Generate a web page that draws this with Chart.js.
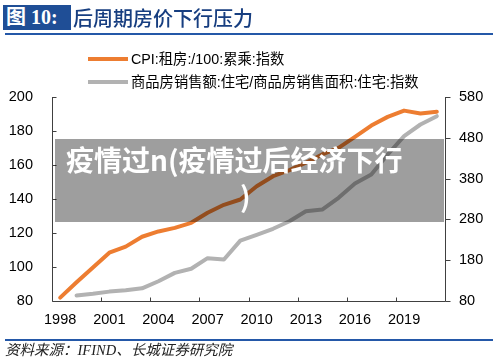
<!DOCTYPE html>
<html><head><meta charset="utf-8">
<script src="https://cdn.jsdelivr.net/npm/chart.js@4.4.0/dist/chart.umd.min.js"></script>
<style>
html,body{margin:0;padding:0;background:#fff;}
#wrap{position:relative;width:500px;height:362px;overflow:hidden;font-family:"Liberation Sans","Noto Sans CJK SC",sans-serif;}
#c{position:absolute;left:0;top:0;}
#tbox{position:absolute;left:3px;top:5px;width:68px;height:25px;background:#1f4e96;color:#fff;font-family:"Liberation Serif","Noto Sans CJK SC",serif;font-weight:bold;font-size:20px;line-height:25px;padding-left:3px;box-sizing:border-box;white-space:nowrap;}
#ttext{position:absolute;left:73px;top:3px;color:#173e80;font-family:"Noto Sans CJK SC",sans-serif;font-size:20px;line-height:30px;font-weight:500;white-space:nowrap;}
.rule{position:absolute;left:5px;width:488px;height:2px;background:#2458a8;}
#src{position:absolute;left:5px;top:341px;font-family:"Liberation Serif","Noto Sans CJK SC",serif;font-style:italic;font-size:14.5px;line-height:18px;color:#222;white-space:nowrap;}
.leg{position:absolute;left:88px;height:18px;font-size:14.3px;line-height:18px;color:#000;white-space:nowrap;}
.leg i{position:absolute;left:0;top:7px;width:40px;height:4px;}
.leg span{position:absolute;left:43px;top:0;}
#ov{position:absolute;left:55px;top:139px;width:389px;height:83px;background:rgba(0,0,0,0.38);}
.ovt{position:absolute;color:#fff;font-family:"Noto Sans CJK SC",sans-serif;font-weight:bold;font-size:28px;line-height:28px;white-space:nowrap;}
</style></head><body>
<div id="wrap">
  <canvas id="c" width="500" height="362"></canvas>
  <div id="tbox">图 10:</div>
  <div id="ttext">后周期房价下行压力</div>
  <div class="rule" style="top:33px"></div>
  <div class="leg" id="leg1" style="top:50px"><i></i><span></span></div>
  <div class="leg" id="leg2" style="top:73px"><i></i><span></span></div>
  <div id="ov"></div>
  <div class="ovt" style="left:66px;top:145px">疫情过n(疫情过后经济下行</div>
  <div class="ovt" style="left:240px;top:181px">)</div>
  <div class="rule" style="top:339px"></div>
  <div id="src">资料来源：IFIND、长城证券研究院</div>
</div>
<script>
const years = ['1998','1999','2000','2001','2002','2003','2004','2005','2006','2007','2008','2009','2010','2011','2012','2013','2014','2015','2016','2017','2018','2019','2020','2021'];
const rentCPI = [82, 91, 99.7, 108.4, 112, 117.8, 120.9, 123, 126, 131.9, 136.6, 139.7, 147.5, 153.4, 157, 161.3, 166.2, 170.1, 176.5, 183.2, 188.3, 192, 190.3, 191.3];
const housePrice = [null, 93.5, 97.6, 103, 106.5, 111, 128.5, 149, 159, 185, 181.7, 228, 242, 257, 275.6, 300, 304, 333, 368, 390, 439, 484, 512.6, 533];
const seriesNames = ['CPI:租房:/100:累乘:指数', '商品房销售额:住宅/商品房销售面积:住宅:指数'];
const seriesColors = ['#ed7d31', '#b2b2b2'];
const leftTicks = {min: 80, max: 200, step: 20};
const rightTicks = {min: 80, max: 580, step: 100};

document.querySelector('#leg1 i').style.background = seriesColors[0];
document.querySelector('#leg1 span').textContent = seriesNames[0];
document.querySelector('#leg2 i').style.background = seriesColors[1];
document.querySelector('#leg2 span').textContent = seriesNames[1];

const tickFont = {family: '"Liberation Sans", Arial, sans-serif', size: 14.5};
const axisColor = '#404040';

const axesPlugin = {
  id: 'axesLines',
  afterDatasetsDraw(chart) {
    const {ctx, chartArea: a, scales} = chart;
    const x = scales.x, y = scales.y, y1 = scales.y1;
    ctx.save();
    ctx.strokeStyle = axisColor;
    ctx.lineWidth = 1;
    const L = Math.round(a.left) + 0.5, R = Math.round(a.right) + 0.5, B = Math.round(a.bottom) + 0.5;
    const T = Math.round(a.top);
    ctx.beginPath();
    ctx.moveTo(L, T); ctx.lineTo(L, B); ctx.lineTo(R, B); ctx.lineTo(R, T);
    y.ticks.forEach(t => { const p = Math.round(y.getPixelForValue(t.value)) + 0.5; ctx.moveTo(L, p); ctx.lineTo(L + 4, p); });
    y1.ticks.forEach(t => { const p = Math.round(y1.getPixelForValue(t.value)) + 0.5; ctx.moveTo(R, p); ctx.lineTo(R + 5, p); });
    const half = (x.getPixelForValue(1) - x.getPixelForValue(0)) / 2;
    for (let i = 3; i < years.length; i += 3) {
      const p = Math.round(x.getPixelForValue(i) - half) + 0.5;
      ctx.moveTo(p, B); ctx.lineTo(p, B - 4);
    }
    ctx.stroke();
    ctx.restore();
  }
};

new Chart(document.getElementById('c'), {
  type: 'line',
  data: {
    labels: years,
    datasets: [
      {label: seriesNames[0], data: rentCPI, yAxisID: 'y', borderColor: seriesColors[0], backgroundColor: seriesColors[0], borderWidth: 4, pointRadius: 0, tension: 0, borderJoinStyle: 'round', borderCapStyle: 'round', fill: false, clip: false},
      {label: seriesNames[1], data: housePrice, yAxisID: 'y1', borderColor: seriesColors[1], backgroundColor: seriesColors[1], borderWidth: 4, pointRadius: 0, tension: 0, borderJoinStyle: 'round', borderCapStyle: 'round', fill: false, clip: false}
    ]
  },
  options: {
    responsive: false, animation: false, devicePixelRatio: 1,
    layout: {padding: {top: 97, bottom: 29, left: 0, right: 0}},
    plugins: {legend: {display: false}, tooltip: {enabled: false}, title: {display: false}},
    scales: {
      x: {
        type: 'category', offset: true,
        grid: {display: false, drawTicks: false}, border: {display: false},
        ticks: {autoSkip: false, maxRotation: 0, minRotation: 0, padding: 10, color: '#000', font: tickFont,
          callback: (v, i) => (i % 3 === 0 ? years[i] : '')},
        afterFit: s => { s.height = 32; }
      },
      y: {
        position: 'left', min: leftTicks.min, max: leftTicks.max,
        grid: {display: false, drawTicks: false}, border: {display: false},
        ticks: {stepSize: leftTicks.step, padding: 19, color: '#000', font: tickFont},
        afterFit: s => { s.width = 52; }
      },
      y1: {
        position: 'right', min: rightTicks.min, max: rightTicks.max,
        grid: {display: false, drawTicks: false}, border: {display: false},
        ticks: {stepSize: rightTicks.step, padding: 14, color: '#000', font: tickFont},
        afterFit: s => { s.width = 55; }
      }
    }
  },
  plugins: [axesPlugin]
});
</script>
</body></html>
